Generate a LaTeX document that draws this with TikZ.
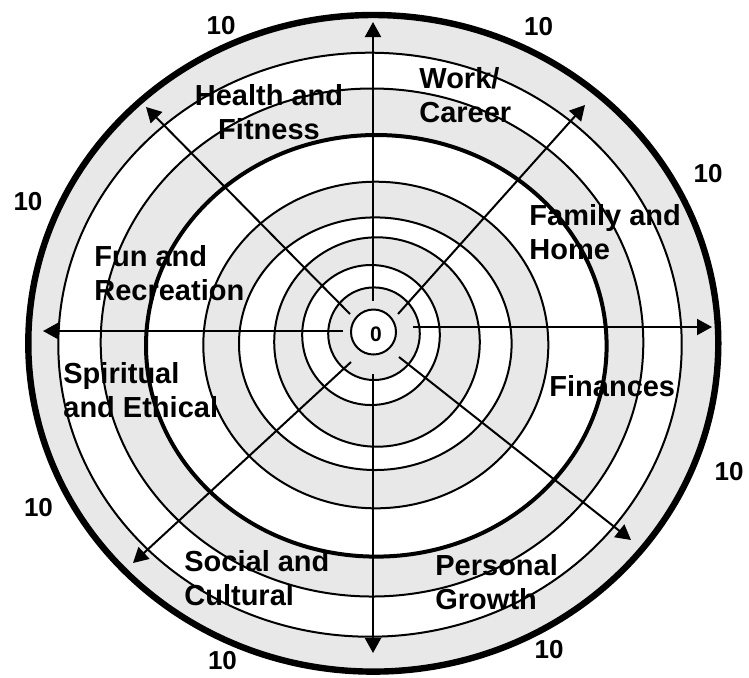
\documentclass[tikz,border=0pt]{standalone}
\usepackage{fontspec}
\setmainfont{Liberation Sans}
\usetikzlibrary{arrows.meta}
\definecolor{band}{HTML}{E8E8E8}
\tikzset{
  ring/.style ={draw=black, line width=1pt},
  axis/.style ={-{Triangle[length=7.5pt,width=8pt]}, line width=1pt, draw=black},
  area/.style ={font=\bfseries\fontsize{14.5}{17}\selectfont, inner sep=0pt,
                align=left, anchor=west},
  score/.style={font=\bfseries\fontsize{13}{15}\selectfont, inner sep=0pt},
}

\begin{document}
\begin{tikzpicture}[x=0.5pt, y=-0.5pt]
  \useasboundingbox (0,0) rectangle (749,677);

  % ---- rings, outermost first, grey and white in turn ----
  \foreach \cx/\cy/\rx/\ry/\col/\lw in {
      373.3/343.3/345/328.3/band/3.2pt,
      370/344.7/311.7/292/white/1pt,
      372/342.5/271.3/254/band/1pt,
      376.3/345.8/230.3/210.8/white/2pt,
      375.8/345/172.5/163.3/band/1pt,
      375.3/343.7/136.3/126.3/white/1pt,
      377/342/102.8/104.7/band/1pt,
      371/335/68.8/70/white/1pt,
      374/333.7/45.8/46.3/band/1pt,
      373.5/332/22.5/22.5/white/1pt}
    \draw[ring, fill=\col, line width=\lw] (\cx,\cy) ellipse [x radius=\rx, y radius=\ry];

  \node[font=\bfseries\fontsize{10.5}{12}\selectfont, inner sep=0pt] (zero) at (376,334) {0};

  % ---- eight axes from the hub to the rim ----
  \foreach \n/\sx/\sy/\ex/\ey in {
      up/373/301/373/22,
      down/373/374/373/653,
      left/343/331/43/331,
      right/413/327/712/327,
      ul/350/314/146/107,
      ur/398/314/585/105,
      ll/351/362/133/563,
      lr/399/357/631/540}{
    \coordinate (\n-s) at (\sx,\sy);
    \coordinate (\n-e) at (\ex,\ey);
    \draw[axis] (\n-s) -- (\n-e);
  }

  % ---- life areas ----
  \node[area, align=center, anchor=center] (health) at (269,112) {Health and\\Fitness};
  \node[area] (work)     at (419,95)    {Work/\\Career};
  \node[area] (family)   at (529,232)   {Family and\\Home};
  \node[area] (fun)      at (94,273.5)  {Fun and\\Recreation};
  \node[area] (spirit)   at (63,390.5)  {Spiritual\\and Ethical};
  \node[area, anchor=base west] (finance) at (549,396) {Finances};
  \node[area] (social)   at (184,578)   {Social and\\Cultural};
  \node[area] (personal) at (435,582)   {Personal\\Growth};

  % ---- full scores on the rim ----
  \node[score] (s1) at (221,26)    {10};
  \node[score] (s2) at (538.5,26.5) {10};
  \node[score] (s3) at (708,174)   {10};
  \node[score] (s4) at (28,202)    {10};
  \node[score] (s5) at (729,472)   {10};
  \node[score] (s6) at (38.5,508)  {10};
  \node[score] (s7) at (222.5,661) {10};
  \node[score] (s8) at (549,650)   {10};

\end{tikzpicture}
\end{document}
